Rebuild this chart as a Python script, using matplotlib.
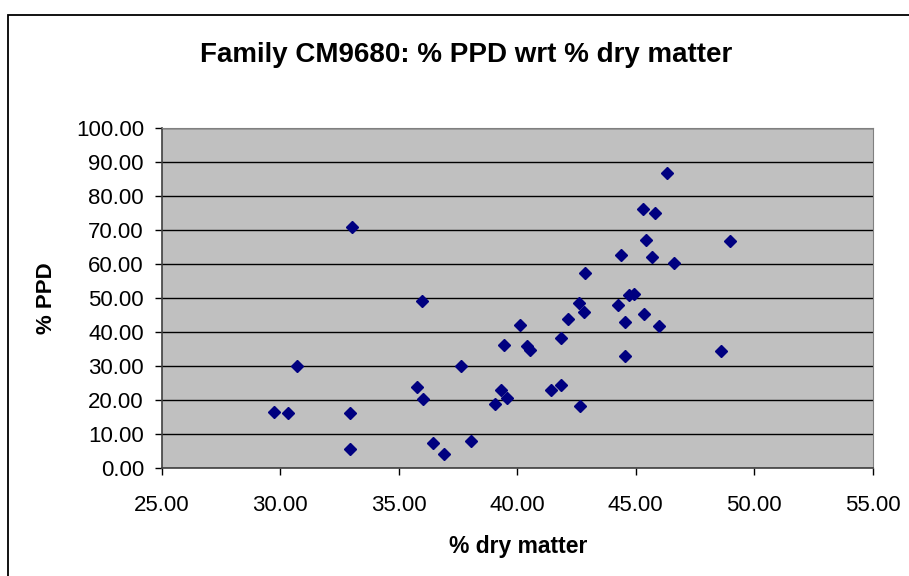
import matplotlib
matplotlib.use("Agg")
import matplotlib.pyplot as plt
from matplotlib.patches import Rectangle
from matplotlib.ticker import FormatStrFormatter

# % dry matter vs % PPD
dry_matter = [29.72, 30.32, 30.69, 32.94, 32.94, 33.01, 35.77, 35.97, 36.01, 36.44,
              36.90, 37.63, 38.05, 39.07, 39.32, 39.56, 39.45, 40.10, 40.41, 40.52,
              41.41, 41.83, 41.83, 42.14, 42.62, 42.67, 42.80, 42.87, 44.24, 44.36,
              44.53, 44.53, 44.72, 44.91, 45.31, 45.36, 45.43, 45.67, 45.80, 45.98,
              46.33, 46.63, 48.62, 48.97]
ppd = [16.6, 16.2, 30.0, 16.2, 5.8, 71.1, 23.8, 49.2, 20.4, 7.4,
       4.2, 30.0, 7.9, 18.8, 23.0, 20.6, 36.3, 42.1, 36.0, 34.8,
       22.9, 24.6, 38.4, 43.8, 48.5, 18.3, 45.9, 57.5, 48.0, 62.6,
       42.9, 32.9, 51.0, 51.3, 76.4, 45.5, 67.2, 62.2, 75.1, 41.8,
       86.8, 60.5, 34.6, 66.8]

x_ticks = [25, 30, 35, 40, 45, 50, 55]
y_ticks = [0, 10, 20, 30, 40, 50, 60, 70, 80, 90, 100]

plt.rcParams['font.family'] = ['Liberation Sans', 'DejaVu Sans']

W, H = 909, 576
fig = plt.figure(figsize=(W / 100, H / 100), dpi=100)

# outer chart frame (cut off at right and bottom)
fig.patches.append(Rectangle((8 / W, -0.1), 2, 1 - 15 / H + 0.1, transform=fig.transFigure,
                             fill=False, edgecolor="black", linewidth=1.3))

left, right, top, bottom = 162, 872.5, 128.3, 468.3
ax = fig.add_axes([left / W, 1 - bottom / H, (right - left) / W, (bottom - top) / H])
ax.set_facecolor("#c0c0c0")
ax.plot(dry_matter, ppd, linestyle="none", marker="D", markersize=6.5,
        color="#000080", zorder=3)

ax.set_xlim(25, 55)
ax.set_ylim(0, 100)
ax.set_xticks(x_ticks)
ax.set_yticks(y_ticks)
ax.xaxis.set_major_formatter(FormatStrFormatter("%.2f"))
ax.yaxis.set_major_formatter(FormatStrFormatter("%.2f"))
ax.grid(True, axis="y", color="black", linewidth=1)
ax.set_axisbelow(True)
ax.tick_params(axis="both", direction="out", length=5, width=1, labelsize=16, color="black")
ax.tick_params(axis="x", pad=14)
ax.tick_params(axis="y", pad=8)
for side in ["top", "right"]:
    ax.spines[side].set_color("#808080")
for side in ["left", "bottom"]:
    ax.spines[side].set_color("#404040")
    ax.spines[side].set_linewidth(1.2)

fig.text(466 / W, 1 - 55 / H, "Family CM9680: % PPD wrt % dry matter",
         ha="center", va="center", fontsize=20, fontweight="bold")
fig.text(518 / W, 1 - 547 / H, "% dry matter", ha="center", va="center",
         fontsize=16.5, fontweight="bold")
fig.text(46 / W, 1 - 298 / H, "% PPD", ha="center", va="center", rotation=90,
         fontsize=16, fontweight="bold")

fig.savefig("out.png", dpi=100)
